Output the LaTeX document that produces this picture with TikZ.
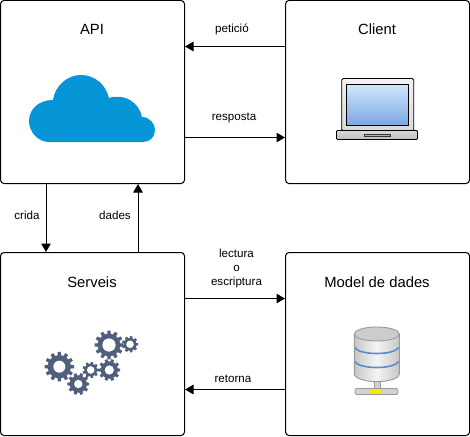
\documentclass[tikz,border=0pt]{standalone}
\usepackage{fontspec}
\setmainfont{Liberation Sans}
\usetikzlibrary{arrows.meta,calc}
\definecolor{cloudblue}{HTML}{0696D7}
\definecolor{gearblue}{HTML}{505F7C}
\definecolor{dbline}{HTML}{5B8BD0}
\definecolor{dbedge}{HTML}{9A9A9A}
\definecolor{screentop}{HTML}{CFE5FC}
\definecolor{screenbot}{HTML}{7DA9E0}
\tikzset{
  panel/.style={draw=black,line width=1pt,rounded corners=3.5pt,minimum width=184pt,minimum height=183pt,inner sep=0pt,fill=white},
  title/.style={font=\fontsize{14.8}{15}\selectfont,inner sep=0pt,anchor=center},
  lbl/.style={font=\fontsize{11.6}{14}\selectfont,inner sep=0pt,anchor=center,align=center},
  flow/.style={line width=1pt,-{Triangle[length=8.5pt,width=9.5pt]}},
}
\newcommand{\cogwheel}[5]{% x,y,outer,hole,teeth
  \pgfmathsetmacro{\rin}{#3*0.78}
  \pgfmathsetmacro{\stepang}{360/#5}
  \begin{scope}[shift={(#1,#2)}]
  \fill[gearblue]
   foreach \k in {1,...,#5}{
     \ifnum\k=1 (\stepang*\k-\stepang*0.20:#3) \else -- (\stepang*\k-\stepang*0.20:#3) \fi
     -- (\stepang*\k+\stepang*0.20:#3)
     -- (\stepang*\k+\stepang*0.30:\rin)
     -- (\stepang*\k+\stepang*0.70:\rin)
   } -- cycle;
  \fill[white] (0,0) circle[radius=#4];
  \end{scope}
}
\begin{document}
\begin{tikzpicture}[x=1pt,y=-1pt]
\useasboundingbox (0,0) rectangle (470,436);
\node[panel] (api) at (92.5,92) {};
\node[panel] (client) at (377.5,92) {};
\node[panel] (serveis) at (92.5,344) {};
\node[panel] (model) at (377.5,344) {};
\node[title] (tapi) at (92,29) {API};
\node[title] (tclient) at (377,29) {Client};
\node[title] (tserveis) at (92,282) {Serveis};
\node[title] (tmodel) at (377,282) {Model de dades};
% connectors
\coordinate (cpet) at (285.5,46.5);
\coordinate (cres) at (184.5,137.5);
\coordinate (ccri) at (46,183.5);
\coordinate (cdad) at (138,252.5);
\coordinate (clec) at (184.5,298.5);
\coordinate (cret) at (285.5,389.5);
\draw[flow] (cpet) -- (cpet -| api.east);
\draw[flow] (cres) -- (cres -| client.west);
\draw[flow] (ccri) -- (ccri |- serveis.north);
\draw[flow] (cdad) -- (cdad |- api.south);
\draw[flow] (clec) -- (clec -| model.west);
\draw[flow] (cret) -- (cret -| serveis.east);
\node[lbl] (lpet) at (232,29.5) {petició};
\node[lbl] (lres) at (234,117.5) {resposta};
\node[lbl] (lcri) at (27,215) {crida};
\node[lbl] (ldad) at (115,215) {dades};
\node[lbl] (llec) at (236.5,268) {lectura\\o\\escriptura};
\node[lbl] (lret) at (233,379) {retorna};
% cloud
\fill[cloudblue]
  (49,142) .. controls (38,142) and (29,132) .. (29,121)
  .. controls (29,109) and (39,100) .. (53,100)
  .. controls (55,86) and (67,75) .. (81,75)
  .. controls (95,75) and (106,85) .. (109,98)
  .. controls (124,93) and (139,102) .. (142,117)
  .. controls (150,117) and (155,124) .. (155,130)
  .. controls (155,137) and (150,142) .. (143,142) -- cycle;
% laptop
\draw[black,line width=0.8pt,rounded corners=1.5pt,top color=white!95!black,bottom color=white!85!black] (341.7,78.5) rectangle (413.7,131);
\draw[black,line width=0.8pt,top color=screentop,bottom color=screenbot] (346.5,84.5) rectangle (408,125);
\draw[black,line width=0.8pt,rounded corners=1pt,top color=white!85!black,bottom color=white!75!black] (336.5,130.5) rectangle (417.5,139.5);
\draw[black!80,line width=0.7pt,fill=white!70!black] (364.5,134.5) rectangle (390,136.5);
% database
\fill[white!82!black,draw=dbedge,line width=0.9pt] (374.3,378) rectangle (380.7,389);
\draw[dbedge,line width=0.9pt,rounded corners=1.5pt,fill=white!82!black] (355,388.5) rectangle (398,394.5);
\fill[yellow!90!orange] (370,389) rectangle (381,394);
\draw[dbedge,line width=0.9pt,left color=white!78!black,right color=white!78!black,middle color=white!96!black]
  (354.3,334) -- (354.3,374) .. controls (354.3,378.5) and (366,381.7) .. (376.8,381.7) .. controls (388,381.7) and (399.3,378.5) .. (399.3,374) -- (399.3,334) -- cycle;
\draw[dbedge,line width=0.9pt,fill=white!80!black] (376.8,334) ellipse[x radius=22.5,y radius=7];
\draw[dbline,line width=1.6pt] (354.8,347.5) .. controls (357,351.5) and (367,353.5) .. (376.8,353.5) .. controls (387,353.5) and (396,351.5) .. (398.8,347.5);
\draw[dbline,line width=1.6pt] (354.8,361.5) .. controls (357,365.5) and (367,367.5) .. (376.8,367.5) .. controls (387,367.5) and (396,365.5) .. (398.8,361.5);
% gears
\cogwheel{59.3}{366.7}{14.8}{6}{12}
\cogwheel{78.3}{384}{11}{4.2}{10}
\cogwheel{90.7}{370}{8.2}{3.8}{9}
\cogwheel{109.3}{370}{11}{4.6}{10}
\cogwheel{109}{345}{14.5}{6.6}{12}
\cogwheel{130}{344.3}{8.2}{3.8}{9}
\end{tikzpicture}
\end{document}
